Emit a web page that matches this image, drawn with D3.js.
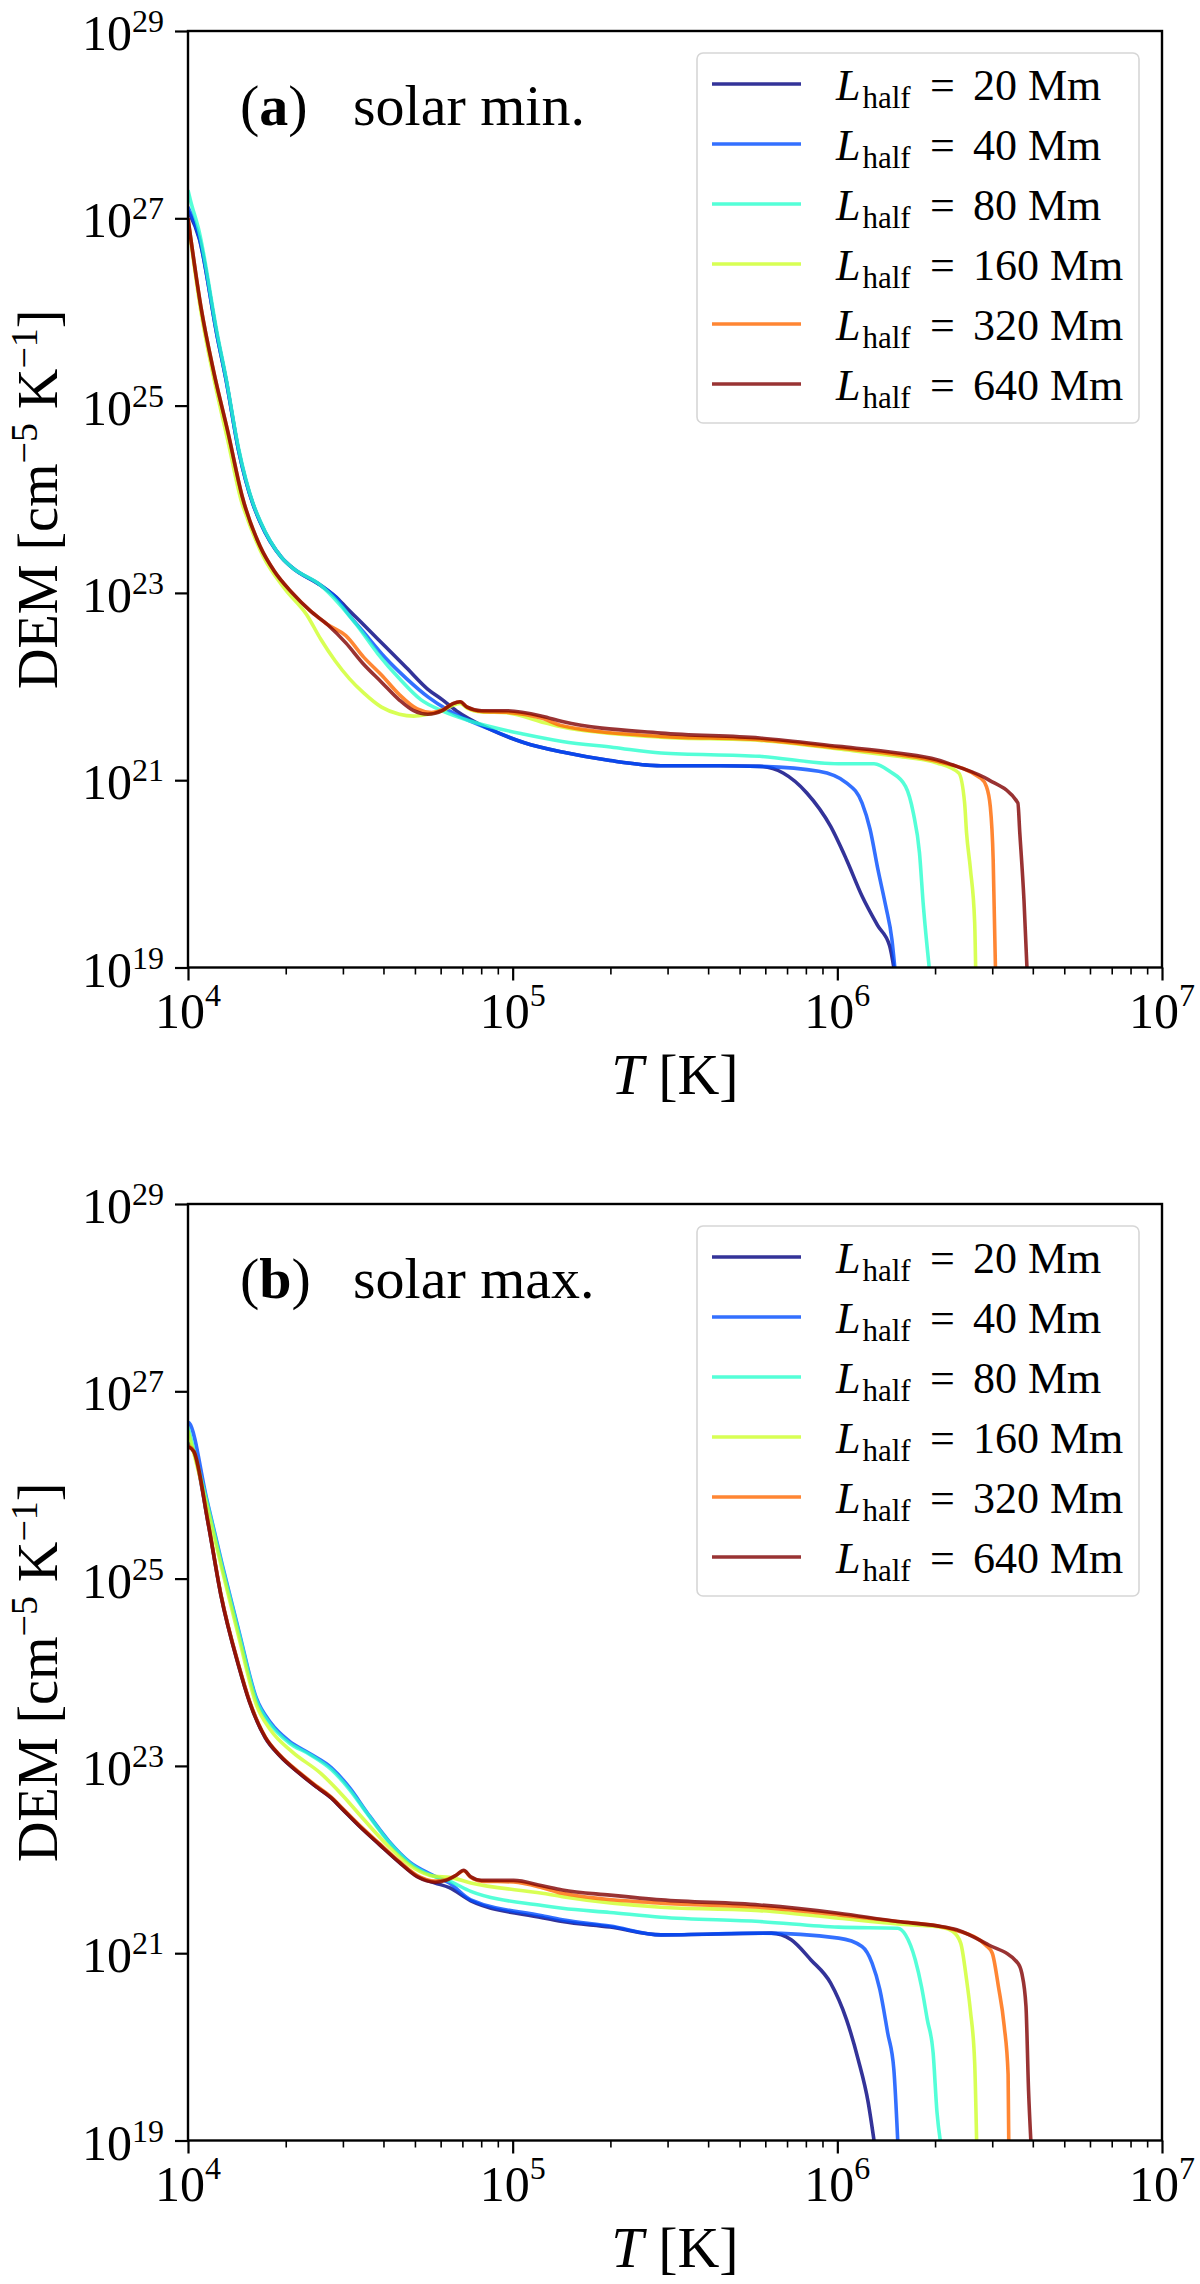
<!DOCTYPE html>
<html>
<head>
<meta charset="utf-8">
<script src="https://cdn.jsdelivr.net/npm/d3@7"></script>
<style>
  body { margin: 0; background: #fff; }
  svg { display: block; }
  text { font-family: "Liberation Serif", "DejaVu Serif", serif; fill: #000; }
</style>
</head>
<body>
<svg id="chart" width="1200" height="2284"></svg>
<script>
// ---------------- DATA (values are [log10 T, log10 DEM]) ----------------
const LENGTHS = ["20", "40", "80", "160", "320", "640"];           // L_half in Mm
const COLORS  = ["#000080", "#004cff", "#29ffce", "#ceff29", "#ff6800", "#800000"];
const X_TICK_EXP = [4, 5, 6, 7];
const Y_TICK_EXP = [19, 21, 23, 25, 27, 29];
const PANEL_LETTERS = ["a", "b"];
const PANEL_TITLES  = ["solar min.", "solar max."];

// (a) solar minimum
const minL20 = [[4.000,27.08],[4.035,26.78],[4.090,25.74],[4.117,25.28],[4.156,24.52],[4.200,23.95],[4.222,23.76],[4.288,23.38],[4.321,23.27],[4.409,23.08],[4.464,22.93],[4.486,22.85],[4.541,22.66],[4.607,22.43],[4.673,22.20],[4.739,21.97],[4.783,21.86],[4.827,21.74],[4.926,21.55],[5.036,21.40],[5.153,21.30],[5.300,21.21],[5.457,21.155],[5.639,21.155],[5.761,21.148],[5.833,21.077],[5.906,20.864],[5.979,20.509],[6.028,20.154],[6.076,19.764],[6.125,19.444],[6.161,19.231],[6.174,19.0]];
const minL40 = [[4.000,27.12],[4.035,26.79],[4.090,25.74],[4.117,25.28],[4.156,24.52],[4.200,23.95],[4.222,23.76],[4.288,23.38],[4.321,23.27],[4.409,23.08],[4.464,22.92],[4.486,22.81],[4.541,22.58],[4.607,22.31],[4.673,22.085],[4.739,21.89],[4.805,21.74],[4.926,21.55],[5.036,21.40],[5.153,21.30],[5.300,21.21],[5.457,21.155],[5.639,21.155],[5.761,21.148],[5.943,21.095],[6.028,20.971],[6.076,20.758],[6.101,20.474],[6.125,20.048],[6.149,19.657],[6.168,19.302],[6.177,19.0]];
const minL80 = [[4.000,27.30],[4.007,27.20],[4.035,26.85],[4.090,25.77],[4.117,25.30],[4.156,24.54],[4.200,23.96],[4.222,23.77],[4.288,23.38],[4.321,23.27],[4.409,23.08],[4.464,22.89],[4.519,22.66],[4.585,22.35],[4.651,22.085],[4.717,21.86],[4.783,21.74],[4.871,21.63],[5.036,21.49],[5.153,21.414],[5.311,21.35],[5.457,21.29],[5.761,21.255],[6.004,21.176],[6.113,21.176],[6.161,21.095],[6.210,20.935],[6.234,20.651],[6.253,20.225],[6.265,19.657],[6.283,19.0]];
const minL160 = [[4.000,26.98],[4.040,26.00],[4.079,25.30],[4.123,24.62],[4.167,23.95],[4.178,23.84],[4.233,23.38],[4.299,23.04],[4.365,22.77],[4.409,22.505],[4.453,22.276],[4.497,22.085],[4.541,21.932],[4.596,21.78],[4.651,21.704],[4.695,21.684],[4.739,21.704],[4.783,21.74],[4.816,21.80],[4.838,21.82],[4.860,21.77],[4.904,21.73],[4.981,21.72],[5.091,21.62],[5.153,21.567],[5.457,21.46],[5.761,21.425],[6.004,21.333],[6.186,21.255],[6.307,21.184],[6.374,21.077],[6.392,20.758],[6.398,20.438],[6.410,20.048],[6.423,19.48],[6.426,19.0]];
const minL320 = [[4.000,27.00],[4.040,26.05],[4.079,25.365],[4.123,24.717],[4.167,24.03],[4.222,23.497],[4.266,23.23],[4.321,23.00],[4.376,22.81],[4.431,22.66],[4.486,22.543],[4.541,22.314],[4.596,22.123],[4.651,21.914],[4.706,21.761],[4.750,21.723],[4.783,21.75],[4.816,21.818],[4.838,21.837],[4.860,21.78],[4.904,21.735],[4.981,21.725],[5.091,21.66],[5.153,21.581],[5.457,21.468],[5.761,21.432],[6.004,21.343],[6.186,21.272],[6.307,21.201],[6.441,21.024],[6.459,20.935],[6.471,20.722],[6.480,20.154],[6.487,19.0]];
const minL640 = [[4.000,27.00],[4.040,26.05],[4.079,25.365],[4.123,24.717],[4.167,24.03],[4.222,23.497],[4.266,23.23],[4.321,23.00],[4.376,22.81],[4.431,22.657],[4.486,22.466],[4.541,22.238],[4.596,22.047],[4.651,21.856],[4.695,21.742],[4.739,21.704],[4.783,21.742],[4.816,21.818],[4.838,21.837],[4.860,21.78],[4.904,21.742],[4.981,21.742],[5.091,21.684],[5.153,21.627],[5.457,21.503],[5.761,21.450],[6.004,21.361],[6.186,21.290],[6.307,21.219],[6.368,21.148],[6.465,21.006],[6.556,20.758],[6.562,20.438],[6.575,19.710],[6.584,19.0]];

// (b) solar maximum
const maxL20 = [[4.000,26.45],[4.018,26.36],[4.062,25.59],[4.101,24.83],[4.156,24.07],[4.189,23.69],[4.238,23.30],[4.282,23.11],[4.343,22.92],[4.398,22.77],[4.442,22.655],[4.475,22.54],[4.530,22.35],[4.590,22.16],[4.651,21.97],[4.706,21.82],[4.761,21.75],[4.805,21.70],[4.871,21.56],[5.091,21.38],[5.153,21.338],[5.300,21.28],[5.457,21.196],[5.797,21.214],[5.858,21.143],[5.918,20.931],[5.979,20.683],[6.028,20.293],[6.064,19.868],[6.095,19.407],[6.113,19.0]];
const maxL40 = [[4.000,26.67],[4.004,26.66],[4.057,25.86],[4.106,25.14],[4.156,24.45],[4.211,23.72],[4.255,23.46],[4.310,23.27],[4.376,23.13],[4.442,22.98],[4.497,22.77],[4.552,22.50],[4.618,22.20],[4.684,21.97],[4.750,21.84],[4.805,21.75],[4.871,21.57],[5.091,21.40],[5.153,21.356],[5.300,21.29],[5.457,21.196],[5.761,21.214],[6.004,21.161],[6.076,21.072],[6.107,20.895],[6.131,20.612],[6.155,20.151],[6.174,19.761],[6.186,19.0]];
const maxL80 = [[4.000,26.62],[4.057,25.84],[4.106,25.12],[4.156,24.43],[4.211,23.70],[4.255,23.44],[4.310,23.25],[4.376,23.12],[4.442,22.96],[4.497,22.75],[4.552,22.49],[4.618,22.19],[4.684,21.96],[4.750,21.83],[4.805,21.77],[4.871,21.66],[5.091,21.51],[5.153,21.48],[5.300,21.435],[5.457,21.384],[5.761,21.338],[6.004,21.278],[6.186,21.267],[6.210,21.196],[6.240,20.93],[6.259,20.647],[6.277,20.293],[6.295,19.938],[6.307,19.301],[6.317,19.0]];
const maxL160 = [[4.000,26.58],[4.057,25.80],[4.106,25.08],[4.156,24.38],[4.211,23.65],[4.255,23.38],[4.321,23.15],[4.409,22.92],[4.475,22.69],[4.541,22.43],[4.618,22.14],[4.695,21.91],[4.761,21.82],[4.805,21.81],[4.871,21.75],[5.091,21.64],[5.153,21.604],[5.457,21.491],[5.761,21.455],[6.004,21.374],[6.186,21.313],[6.319,21.278],[6.356,21.232],[6.380,21.108],[6.398,20.718],[6.410,20.381],[6.423,19.832],[6.429,19.0]];
const maxL320 = [[4.000,26.42],[4.018,26.36],[4.062,25.60],[4.101,24.84],[4.156,24.08],[4.189,23.70],[4.238,23.31],[4.282,23.12],[4.343,22.93],[4.398,22.78],[4.442,22.665],[4.475,22.55],[4.530,22.36],[4.590,22.17],[4.651,21.98],[4.706,21.83],[4.761,21.77],[4.794,21.785],[4.827,21.835],[4.849,21.88],[4.871,21.81],[4.904,21.77],[5.003,21.76],[5.091,21.70],[5.153,21.639],[5.457,21.533],[5.761,21.491],[6.004,21.409],[6.186,21.338],[6.307,21.292],[6.368,21.243],[6.459,21.079],[6.477,21.002],[6.496,20.647],[6.514,20.222],[6.526,19.708],[6.528,19.0]];
const maxL640 = [[4.000,26.41],[4.018,26.357],[4.062,25.593],[4.101,24.83],[4.156,24.067],[4.189,23.686],[4.238,23.304],[4.282,23.113],[4.343,22.922],[4.398,22.77],[4.442,22.655],[4.475,22.541],[4.530,22.35],[4.590,22.159],[4.651,21.969],[4.706,21.816],[4.761,21.758],[4.794,21.778],[4.827,21.835],[4.849,21.885],[4.871,21.816],[4.904,21.778],[5.003,21.778],[5.091,21.72],[5.153,21.675],[5.300,21.62],[5.457,21.569],[5.761,21.515],[6.004,21.427],[6.186,21.338],[6.307,21.292],[6.368,21.25],[6.465,21.09],[6.556,20.895],[6.568,20.789],[6.581,20.435],[6.589,19.531],[6.596,19.0]];

const SERIES_MIN = [minL20, minL40, minL80, minL160, minL320, minL640];
const SERIES_MAX = [maxL20, maxL40, maxL80, maxL160, maxL320, maxL640];

// ---------------- LAYOUT ----------------
const svg = d3.select("#chart");
const plotLeft = 188, plotRight = 1162, plotH = 936.5;
const panelTops = [31, 1204];
const panelSeries = [SERIES_MIN, SERIES_MAX];
const defs = svg.append("defs");

panelTops.forEach((top, pi) => {
  const bottom = top + plotH;
  const g = svg.append("g");
  const x = d3.scaleLog().domain([1e4, 1e7]).range([plotLeft, plotRight]);
  const y = d3.scaleLog().domain([1e19, 1e29]).range([bottom, top]);

  const clipId = "clip" + pi;
  defs.append("clipPath").attr("id", clipId)
    .append("rect").attr("x", plotLeft).attr("y", top)
    .attr("width", plotRight - plotLeft).attr("height", plotH);

  // curves
  const line = d3.line()
    .x(d => x(Math.pow(10, d[0])))
    .y(d => y(Math.pow(10, d[1])))
    .curve(d3.curveMonotoneX);
  g.append("g").attr("clip-path", `url(#${clipId})`)
    .selectAll("path").data(panelSeries[pi]).join("path")
    .attr("d", line)
    .attr("fill", "none")
    .attr("stroke", (d, i) => COLORS[i])
    .attr("stroke-opacity", 0.8)
    .attr("stroke-width", 3.6)
    .attr("stroke-linejoin", "round");

  // x axis ticks
  const minorX = [];
  for (let e = 4; e < 7; e++) for (let m = 2; m <= 9; m++) minorX.push(m * Math.pow(10, e));
  const styleAxis = (sel, w) => {
    sel.select(".domain").remove();
    sel.selectAll(".tick line").attr("stroke", "#000").attr("stroke-width", w);
    sel.selectAll(".tick text").remove();
  };
  g.append("g").attr("transform", `translate(0,${bottom})`)
    .call(d3.axisBottom(x).tickValues(minorX).tickSize(7).tickFormat(""))
    .call(s => styleAxis(s, 1.6));
  g.append("g").attr("transform", `translate(0,${bottom})`)
    .call(d3.axisBottom(x).tickValues(X_TICK_EXP.map(e => Math.pow(10, e))).tickSize(13).tickFormat(""))
    .call(s => styleAxis(s, 2.2));
  g.append("g").attr("transform", `translate(${plotLeft},0)`)
    .call(d3.axisLeft(y).tickValues(Y_TICK_EXP.map(e => Math.pow(10, e))).tickSize(13).tickFormat(""))
    .call(s => styleAxis(s, 2.2));

  // frame
  g.append("rect").attr("x", plotLeft).attr("y", top)
    .attr("width", plotRight - plotLeft).attr("height", plotH)
    .attr("fill", "none").attr("stroke", "#000").attr("stroke-width", 2.4);

  // x tick labels (whole label centred on the tick)
  X_TICK_EXP.forEach(e => {
    const cx = x(Math.pow(10, e));
    const t = g.append("text").attr("x", cx).attr("y", bottom + 60)
      .attr("text-anchor", "middle");
    t.append("tspan").attr("font-size", 50).text("10");
    t.append("tspan").attr("font-size", 32).attr("dy", -22).text(String(e));
  });
  // y tick labels
  Y_TICK_EXP.forEach(e => {
    const cy = y(Math.pow(10, e));
    const t = g.append("text").attr("x", 164).attr("y", cy + 19)
      .attr("text-anchor", "end");
    t.append("tspan").attr("font-size", 50).text("10");
    t.append("tspan").attr("font-size", 32).attr("dy", -18).text(String(e));
  });

  // axis labels
  const xl = g.append("text").attr("x", (plotLeft + plotRight) / 2).attr("y", bottom + 126)
    .attr("text-anchor", "middle").attr("font-size", 58);
  xl.append("tspan").attr("font-style", "italic").text("T");
  xl.append("tspan").text(" [K]");

  const yl = g.append("text")
    .attr("transform", `translate(57,${top + plotH / 2}) rotate(-90)`)
    .attr("text-anchor", "middle").attr("font-size", 56);
  yl.append("tspan").text("DEM [cm");
  yl.append("tspan").attr("font-size", 38).attr("dy", -20).text("\u22125");
  yl.append("tspan").attr("dy", 20).text(" K");
  yl.append("tspan").attr("font-size", 38).attr("dy", -20).text("\u22121");
  yl.append("tspan").attr("dy", 20).text("]");

  // panel annotation
  const ann = g.append("text").attr("x", 240).attr("y", top + 94).attr("font-size", 58);
  ann.append("tspan").text("(");
  ann.append("tspan").attr("font-weight", "bold").text(PANEL_LETTERS[pi]);
  ann.append("tspan").text(")");
  g.append("text").attr("x", 353).attr("y", top + 94).attr("font-size", 58).text(PANEL_TITLES[pi]);

  // legend
  const lg = g.append("g");
  lg.append("rect").attr("x", 697).attr("y", top + 22).attr("width", 442).attr("height", 370)
    .attr("rx", 6).attr("ry", 6)
    .attr("fill", "#fff").attr("fill-opacity", 0.8)
    .attr("stroke", "#d6d6d6").attr("stroke-width", 1.6);
  LENGTHS.forEach((L, i) => {
    const ry = top + 53 + i * 60;
    lg.append("line").attr("x1", 712).attr("x2", 801).attr("y1", ry).attr("y2", ry)
      .attr("stroke", COLORS[i]).attr("stroke-opacity", 0.8).attr("stroke-width", 3.6);
    const t = lg.append("text").attr("x", 836).attr("y", ry + 16).attr("font-size", 44);
    t.append("tspan").attr("font-style", "italic").text("L");
    t.append("tspan").attr("font-size", 31).attr("dx", 2).attr("dy", 8).text("half");
    lg.append("text").attr("x", 930).attr("y", ry + 16).attr("font-size", 44).text("=");
    lg.append("text").attr("x", 973).attr("y", ry + 16).attr("font-size", 44).text(L + " Mm");
  });
});
</script>
</body>
</html>
